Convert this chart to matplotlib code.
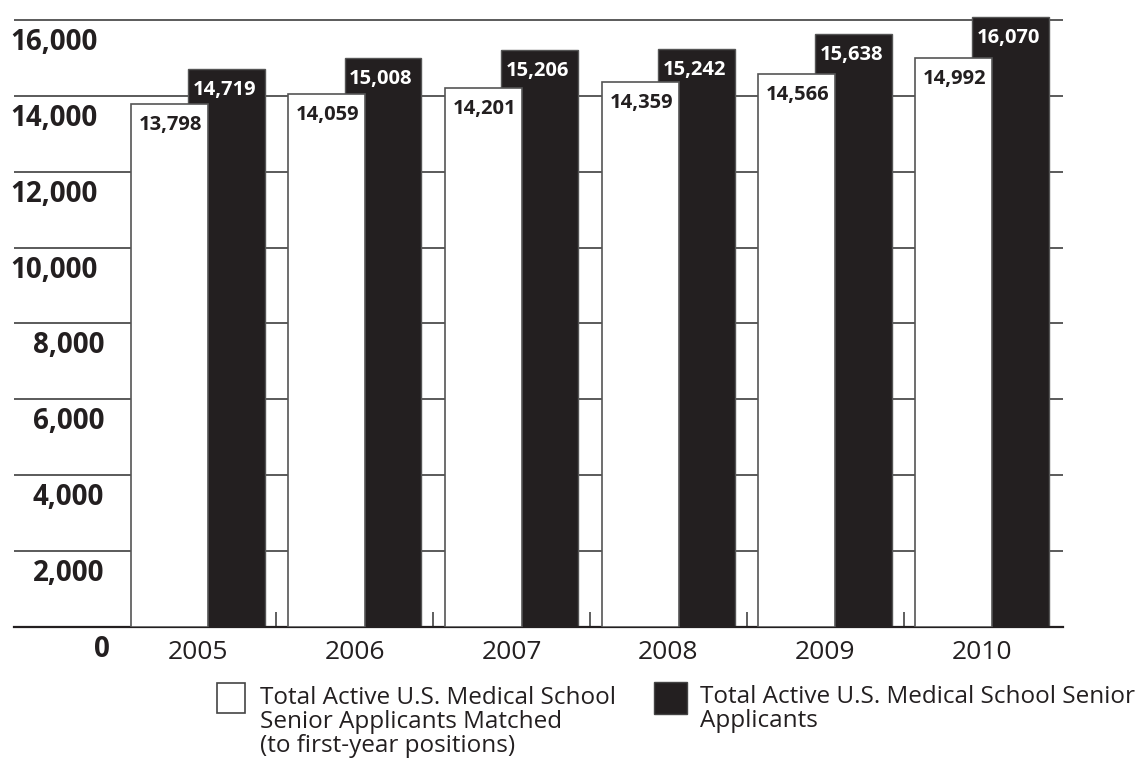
import matplotlib
matplotlib.use('Agg')
import matplotlib.pyplot as plt
from matplotlib.patches import Rectangle

plt.rcParams['font.family'] = ['Open Sans', 'DejaVu Sans']

years = ['2005', '2006', '2007', '2008', '2009', '2010']
matched = [13798, 14059, 14201, 14359, 14566, 14992]
applicants = [14719, 15008, 15206, 15242, 15638, 16070]
yticks = [0, 2000, 4000, 6000, 8000, 10000, 12000, 14000, 16000]

label_matched = 'Total Active U.S. Medical School\nSenior Applicants Matched\n(to first-year positions)'
label_applicants = 'Total Active U.S. Medical School Senior\nApplicants'

W, H = 1136, 765
fig = plt.figure(figsize=(W / 100, H / 100), dpi=100)
ax = fig.add_axes([14 / W, 138 / H, (1063 - 14) / W, 627 / H])

black = '#231f20'
x = list(range(len(years)))
off = 0.18
bw = 0.49

# black bars behind, white bars overlap in front
ax.bar([i + off for i in x], applicants, width=bw, color=black,
       edgecolor='#555555', linewidth=1, zorder=2)
ax.bar([i - off for i in x], matched, width=bw, color='white',
       edgecolor='#555555', linewidth=1.2, zorder=3)

for i in x:
    ax.annotate(f'{applicants[i]:,}', (i + off, applicants[i]), xytext=(-2, -26),
                textcoords='offset pixels', ha='center', va='baseline',
                color='white', fontsize=14.5, fontweight='bold', zorder=5)
    ax.annotate(f'{matched[i]:,}', (i - off, matched[i]), xytext=(1, -26),
                textcoords='offset pixels', ha='center', va='baseline',
                color=black, fontsize=14.5, fontweight='bold', zorder=5)

ax.set_xlim(-1.173, 5.517)
ax.set_ylim(0, 16527)

# gridlines
for v in yticks[1:]:
    ax.axhline(v, color='#4d4d4d', linewidth=1.3, zorder=1)

# y labels sit below their gridline
for v in yticks:
    if v >= 10000:
        xr = 98
    elif v > 0:
        xr = 104
    else:
        xr = 110
    ax.annotate(f'{v:,}', ((xr - 14) / (1063 - 14), v), xycoords=ax.get_yaxis_transform(),
                xytext=(0, -30), textcoords='offset pixels', ha='right', va='baseline',
                fontsize=20, fontweight='bold', color=black, annotation_clip=False)

for s in ['top', 'right', 'left']:
    ax.spines[s].set_visible(False)
ax.spines['bottom'].set_color('#231f20')
ax.spines['bottom'].set_linewidth(1.6)
ax.set_yticks([])

# year labels
ax.set_xticks(x)
ax.set_xticklabels([])
ax.tick_params(axis='x', which='major', length=0)
for i in x:
    ax.annotate(years[i], (i, 0), xycoords=('data', 'axes fraction'), xytext=(0, -32),
                textcoords='offset pixels', ha='center', va='baseline',
                fontsize=19, color=black, annotation_clip=False)

# separators between year groups
ax.set_xticks([i + 0.5 for i in x[:-1]], minor=True)
ax.tick_params(axis='x', which='minor', direction='in', length=11, width=1.2, color='#444444')

# legend
def fx(px):
    return px / W

def fy(py):
    return 1 - py / H

fig.add_artist(Rectangle((fx(217), fy(713)), 28 / W, 30 / H, transform=fig.transFigure,
                         facecolor='white', edgecolor='#444444', linewidth=1.2))
fig.add_artist(Rectangle((fx(654), fy(714)), 33 / W, 32 / H, transform=fig.transFigure,
                         facecolor=black, edgecolor='#444444', linewidth=1))
# baseline of a multi-line text is that of its last line
fig.text(fx(260), fy(752), label_matched, ha='left', va='baseline', fontsize=17.5,
         linespacing=0.99, color=black)
fig.text(fx(700), fy(727), label_applicants, ha='left', va='baseline', fontsize=17.5,
         linespacing=0.99, color=black)

fig.savefig('out.png', dpi=100)
